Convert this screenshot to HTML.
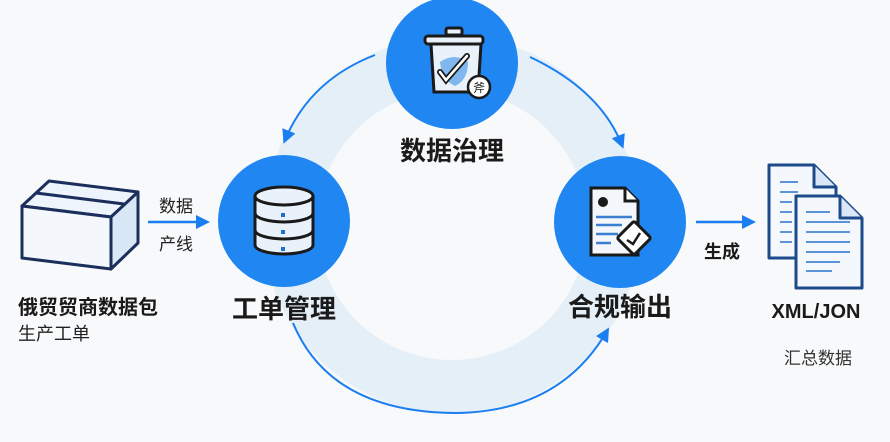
<!DOCTYPE html>
<html><head><meta charset="utf-8"><style>
html,body{margin:0;padding:0;background:#f8f9fa}
svg{display:block}
text{font-family:"Liberation Sans","Noto Sans CJK SC",sans-serif}
</style></head><body>
<svg width="890" height="442" viewBox="0 0 890 442" xmlns="http://www.w3.org/2000/svg">
<defs>
<marker id="ah2" markerWidth="14" markerHeight="14" refX="10" refY="7" orient="auto" markerUnits="userSpaceOnUse"><path d="M0,0 L14,7 L0,14 z" fill="#1a7ef0"/></marker>
</defs>
<rect width="890" height="442" fill="#f8f9fa"/>
<circle cx="452" cy="225" r="162" fill="none" stroke="#deebf7" stroke-width="54" opacity="0.75"/>
<path d="M375,55 Q310,80 285,140" fill="none" stroke="#1a7ef0" stroke-width="2" marker-end="url(#ah2)"/>
<path d="M530,57 Q600,90 622,145" fill="none" stroke="#1a7ef0" stroke-width="2" marker-end="url(#ah2)"/>
<path d="M293,323 Q330,412 455,413 Q560,412 607,331" fill="none" stroke="#1a7ef0" stroke-width="2" marker-end="url(#ah2)"/>
<circle cx="452" cy="63" r="66" fill="#1f86f2"/>
<circle cx="284" cy="221" r="66" fill="#1f86f2"/>
<circle cx="620" cy="222" r="66" fill="#1f86f2"/>
<g stroke="#1a1a1a" stroke-width="3" fill="#e9f2fb">
<rect x="446" y="28" width="16" height="7" rx="2"/>
<rect x="425" y="36" width="58" height="8" rx="3"/>
<path d="M431,44 L434,92 L478,92 L481,44 z"/>
</g>
<path d="M440,62 Q455,52 468,62 Q468,80 455,86 Q442,80 440,62z" fill="#7fb7ee"/>
<path d="M440,72 L446,80 L467,56" fill="none" stroke="#1a1a1a" stroke-width="6" stroke-linecap="round"/>
<path d="M440,72 L446,80 L467,56" fill="none" stroke="#fff" stroke-width="2.5" stroke-linecap="round"/>
<circle cx="479" cy="87" r="11" fill="#fff" stroke="#1a1a1a" stroke-width="2.5"/>
<text x="479" y="92" font-size="12" text-anchor="middle" fill="#1a1a1a">斧</text>
<g stroke="#1a1a1a" stroke-width="3" fill="#e9f2fb">
<path d="M255,196 L255,245 A29,9 0 0 0 313,245 L313,196"/>
<ellipse cx="284" cy="196" rx="29" ry="9"/>
<path d="M255,213 A29,9 0 0 0 313,213" fill="none"/>
<path d="M255,230 A29,9 0 0 0 313,230" fill="none"/>
</g>
<rect x="281" y="213" width="4" height="4" fill="#1f6fd0"/><rect x="281" y="230" width="4" height="4" fill="#1f6fd0"/><rect x="281" y="247" width="4" height="4" fill="#1f6fd0"/>
<g stroke="#1a1a1a" stroke-width="3" fill="#f3f6fa">
<path d="M591,188 L625,188 L638,201 L638,255 L591,255 z"/>
<path d="M625,188 L625,201 L638,201" fill="#fff"/>
</g>
<circle cx="603" cy="202" r="5" fill="#1a1a1a"/>
<g stroke="#3a7fd0" stroke-width="2.5"><line x1="596" y1="217" x2="632" y2="217"/><line x1="596" y1="225" x2="622" y2="225"/><line x1="596" y1="234" x2="618" y2="234"/><line x1="596" y1="243" x2="611" y2="243"/></g>
<rect x="622" y="226" width="24" height="24" transform="rotate(45 634 238)" fill="#fff" stroke="#1a1a1a" stroke-width="3" rx="2"/>
<path d="M627,240 L633,244 L640,233" fill="none" stroke="#1a1a1a" stroke-width="2.5"/>
<text x="452" y="160" font-size="26" font-weight="bold" text-anchor="middle" fill="#1a1a1a">数据治理</text>
<text x="284" y="318" font-size="26" font-weight="bold" text-anchor="middle" fill="#1a1a1a">工单管理</text>
<text x="620" y="316" font-size="26" font-weight="bold" text-anchor="middle" fill="#1a1a1a">合规输出</text>
<g stroke="#1c2e5c" stroke-width="3" stroke-linejoin="round">
<path d="M22,206 L49,181 L138,192 L111,217 z" fill="#eef4fb"/>
<path d="M22,206 L111,217 L111,269 L22,258 z" fill="#f4f8fd"/>
<path d="M111,217 L138,192 L138,243 L111,269 z" fill="#d9e7f7"/>
<path d="M36,193 L124,204" fill="none"/>
</g>
<line x1="148" y1="222" x2="206" y2="222" stroke="#1a7ef0" stroke-width="2.5" marker-end="url(#ah2)"/>
<text x="176" y="212" font-size="17" text-anchor="middle" fill="#222">数据</text>
<text x="176" y="250" font-size="17" text-anchor="middle" fill="#222">产线</text>
<text x="18" y="314" font-size="20" font-weight="bold" fill="#1a1a1a">俄贸贸商数据包</text>
<text x="18" y="340" font-size="18" fill="#222">生产工单</text>
<line x1="696" y1="222" x2="752" y2="222" stroke="#1a7ef0" stroke-width="2.5" marker-end="url(#ah2)"/>
<text x="722" y="258" font-size="18" font-weight="bold" text-anchor="middle" fill="#1a1a1a">生成</text>
<g stroke="#1c4a8a" stroke-width="3" stroke-linejoin="round">
<path d="M769,165 L814,165 L836,187 L836,258 L769,258 z" fill="#f4f8fd"/>
<path d="M814,165 L814,187 L836,187" fill="#d9e7f7"/>
<path d="M796,196 L840,196 L862,218 L862,288 L796,288 z" fill="#f4f8fd"/>
<path d="M840,196 L840,218 L862,218" fill="#d9e7f7"/>
</g>
<g stroke="#5a93d6" stroke-width="2"><line x1="780" y1="182" x2="798" y2="182"/><line x1="780" y1="192" x2="798" y2="192"/><line x1="780" y1="202" x2="792" y2="202"/><line x1="780" y1="212" x2="792" y2="212"/><line x1="780" y1="222" x2="792" y2="222"/><line x1="780" y1="232" x2="792" y2="232"/><line x1="780" y1="242" x2="792" y2="242"/>
<line x1="806" y1="212" x2="830" y2="212"/><line x1="806" y1="222" x2="850" y2="222"/><line x1="806" y1="232" x2="850" y2="232"/><line x1="806" y1="242" x2="850" y2="242"/><line x1="806" y1="252" x2="850" y2="252"/><line x1="806" y1="262" x2="840" y2="262"/><line x1="806" y1="271" x2="832" y2="271"/></g>
<text x="816" y="318" font-size="20" font-weight="bold" text-anchor="middle" fill="#1a1a1a">XML/JON</text>
<text x="818" y="364" font-size="17" text-anchor="middle" fill="#333">汇总数据</text>
</svg>
</body></html>
